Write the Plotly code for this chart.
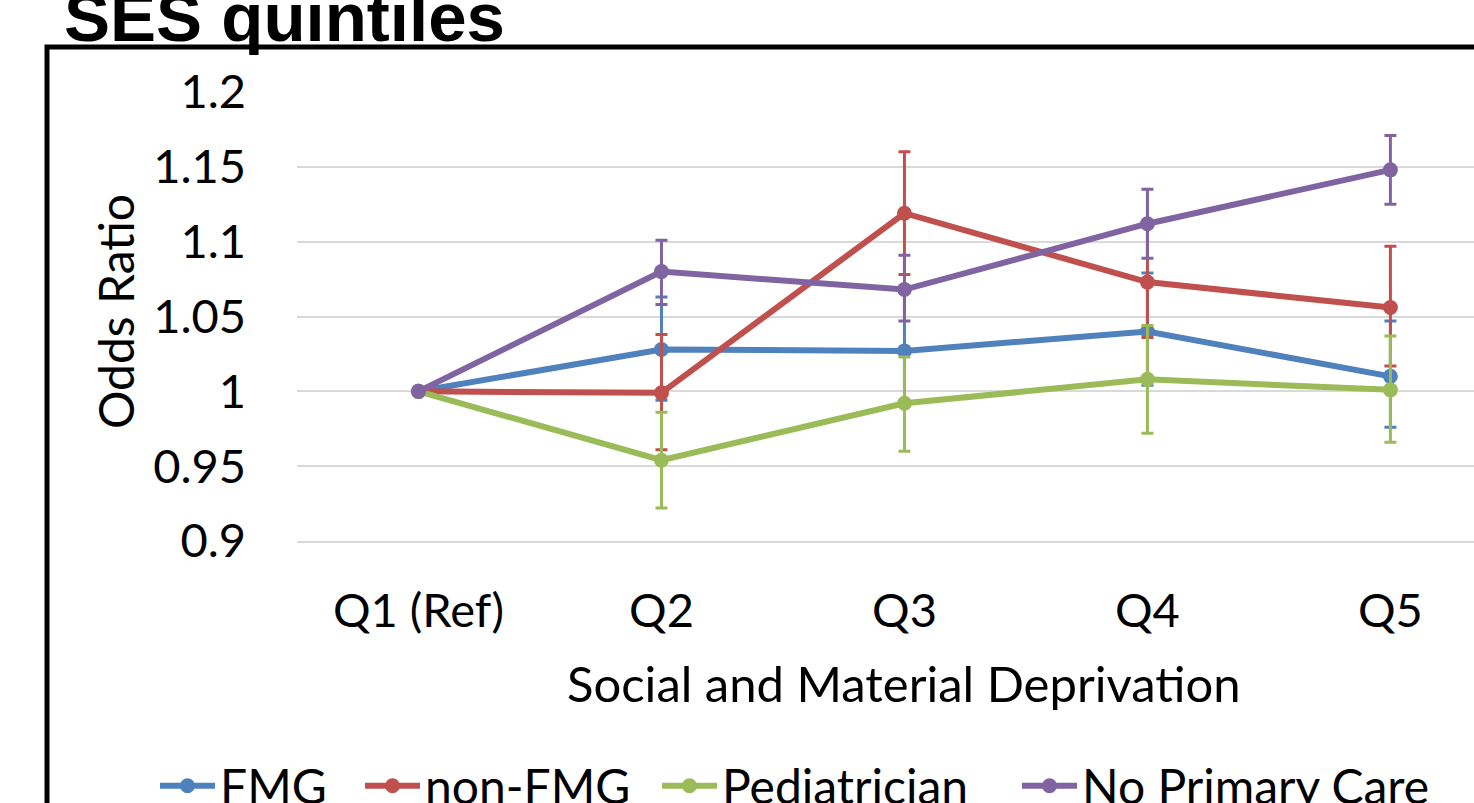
import plotly.graph_objects as go

categories = ["Q1 (Ref)", "Q2", "Q3", "Q4", "Q5"]

fmg = [1.0, 1.028, 1.027, 1.040, 1.010]
fmg_hi = [None, 1.063, 1.066, 1.079, 1.047]
fmg_lo = [None, 0.994, 0.990, 1.004, 0.976]

nonfmg = [1.0, 0.999, 1.119, 1.073, 1.056]
nonfmg_hi = [None, 1.038, 1.160, 1.110, 1.097]
nonfmg_lo = [None, 0.961, 1.078, 1.036, 1.017]

ped = [1.0, 0.954, 0.992, 1.008, 1.001]
ped_hi = [None, 0.986, 1.023, 1.044, 1.037]
ped_lo = [None, 0.922, 0.960, 0.972, 0.966]

nopc = [1.0, 1.080, 1.068, 1.112, 1.148]
nopc_hi = [None, 1.101, 1.091, 1.135, 1.171]
nopc_lo = [None, 1.058, 1.047, 1.089, 1.125]

y_tickvals = [0.9, 0.95, 1.0, 1.05, 1.1, 1.15, 1.2]
y_ticktext = ["0.9", "0.95", "1", "1.05", "1.1", "1.15", "1.2"]

series = [
    ("FMG", fmg, fmg_hi, fmg_lo, "#4F81BD"),
    ("non-FMG", nonfmg, nonfmg_hi, nonfmg_lo, "#C0504D"),
    ("Pediatrician", ped, ped_hi, ped_lo, "#9BBB59"),
    ("No Primary Care", nopc, nopc_hi, nopc_lo, "#8064A2"),
]
legend_px = [160, 365, 662, 1022]

FONT = "Lato, 'Open Sans', sans-serif"
W, H = 1474, 803
L, T, B = 297, 92, 262
plot_h = H - T - B
plot_w = W - L


def px_x(p):
    return (p - L) / plot_w


def px_y(p):
    return (H - B - p) / plot_h


fig = go.Figure()
legend_layouts = {}
for i, (name, vals, hi, lo, color) in enumerate(series):
    plus = [None if h is None else h - v for v, h in zip(vals, hi)]
    minus = [None if l is None else v - l for v, l in zip(vals, lo)]
    lname = "legend" if i == 0 else f"legend{i + 1}"
    fig.add_trace(go.Scatter(
        x=categories, y=vals, name=name, mode="lines+markers",
        line=dict(color=color, width=6),
        marker=dict(color=color, size=15),
        error_y=dict(type="data", symmetric=False, array=plus, arrayminus=minus,
                     color=color, thickness=3, width=6),
        legend=lname,
    ))
    legend_layouts[lname] = dict(
        orientation="h", x=px_x(legend_px[i] - 5), xanchor="left",
        y=px_y(786), yanchor="middle",
        font=dict(family=FONT, size=48), itemwidth=55,
        bgcolor="rgba(0,0,0,0)")

fig.update_layout(
    width=W, height=H,
    margin=dict(l=L, r=0, t=T, b=B, pad=0, autoexpand=False),
    paper_bgcolor="white", plot_bgcolor="white",
    font=dict(family=FONT, color="black", size=46),
    showlegend=True,
    xaxis=dict(type="category", range=[-0.5, 4.344], showgrid=False,
               showline=True, linecolor="#D9D9D9", linewidth=2,
               ticks="", tickfont=dict(family=FONT, size=47), ticklabelstandoff=28),
    yaxis=dict(range=[0.9, 1.2], tickvals=y_tickvals, ticktext=y_ticktext,
               showgrid=True, gridcolor="#D9D9D9", gridwidth=2, zeroline=False,
               showline=False, ticks="", tickfont=dict(family=FONT, size=47),
               ticklabelstandoff=50),
    shapes=[dict(type="rect", xref="paper", yref="paper",
                 x0=px_x(47), x1=1.3, y0=-1.5, y1=px_y(47),
                 line=dict(color="black", width=5), fillcolor="rgba(0,0,0,0)", layer="below")],
    annotations=[
        dict(text="<b>SES quintiles</b>", xref="paper", yref="paper",
             x=px_x(62), y=px_y(58), xanchor="left", yanchor="bottom", showarrow=False,
             font=dict(family="Liberation Sans, Arial, sans-serif", size=69, color="black")),
        dict(text="Odds Ratio", xref="paper", yref="paper", textangle=-90,
             x=px_x(115), y=px_y(312), xanchor="center", yanchor="middle", showarrow=False,
             font=dict(family=FONT, size=48, color="black")),
        dict(text="Social and Material Deprivation", xref="x", yref="paper",
             x=2, y=px_y(683), xanchor="center", yanchor="middle", showarrow=False,
             font=dict(family=FONT, size=49, color="black")),
    ],
    **legend_layouts,
)

fig.write_html("out.html")
